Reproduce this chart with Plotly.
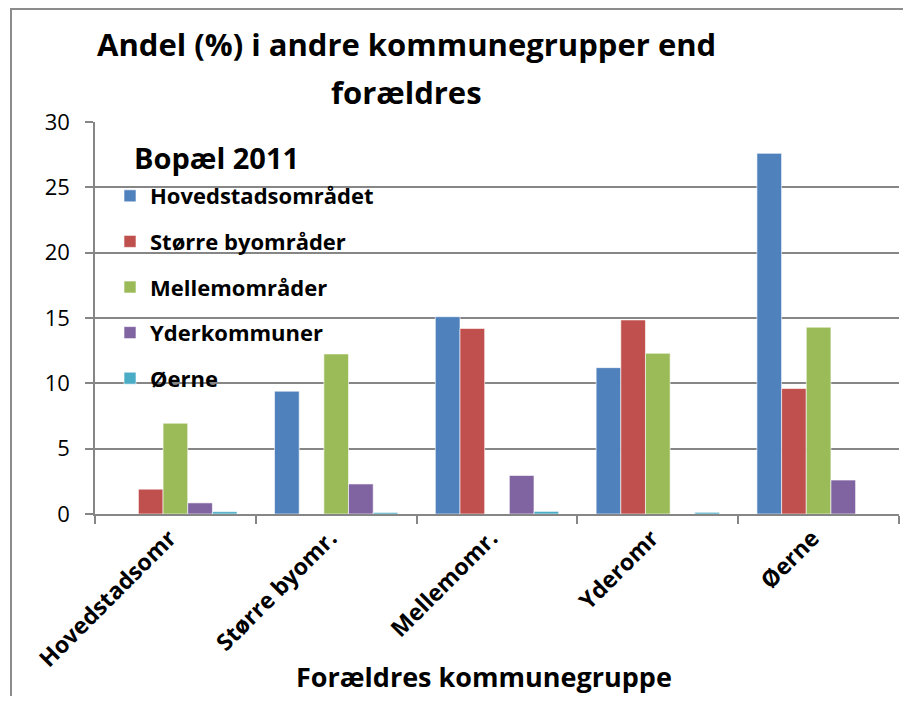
import plotly.graph_objects as go

# Forældres kommunegruppe (x categories)
categories = ["Hovedstadsomr", "Større byomr.", "Mellemomr.", "Yderomr", "Øerne"]

# Bopæl 2011 series (andel i %)
hovedstadsomraadet = [0.0, 9.4, 15.1, 11.2, 27.6]
stoerre_byomraader = [1.9, 0.0, 14.2, 14.85, 9.6]
mellemomraader = [6.95, 12.25, 0.0, 12.3, 14.3]
yderkommuner = [0.85, 2.3, 2.95, 0.0, 2.6]
oerne = [0.18, 0.12, 0.2, 0.13, 0.0]

series_names = ["Hovedstadsområdet", "Større byområder", "Mellemområder", "Yderkommuner", "Øerne"]
series_values = [hovedstadsomraadet, stoerre_byomraader, mellemomraader, yderkommuner, oerne]
colors = ["#4F81BD", "#C0504D", "#9BBB59", "#8064A2", "#4BACC6"]

FONT = "Open Sans"
GRAY = "#868686"

fig = go.Figure()
for i, (name, vals) in enumerate(zip(series_names, series_values)):
    fig.add_trace(go.Bar(
        x=categories,
        y=vals,
        name=f"<b>{name}</b>",
        legendgroup=f"g{i}",
        marker=dict(color=colors[i], line=dict(color="rgba(255,255,255,0.6)", width=1)),
    ))

# page has an 8px body margin, so the figure is a bit smaller than the window
W, H = 895, 688
ml, mr, mt, mb = 87, 4, 114, 182
pw = W - ml - mr
ph = H - mt - mb


def px_x(x):
    return (x - ml) / pw


def px_y(y):
    return (H - mb - y) / ph


fig.update_layout(
    width=W,
    height=H,
    margin=dict(l=ml, r=mr, t=mt, b=mb, autoexpand=False),
    paper_bgcolor="white",
    plot_bgcolor="white",
    barmode="group",
    bargap=0.233,
    bargroupgap=0,
    font=dict(family=FONT, color="black"),
    showlegend=True,
    legend=dict(
        x=px_x(102), y=px_y(167), xanchor="left", yanchor="top",
        bgcolor="rgba(0,0,0,0)",
        font=dict(size=22, family=FONT),
        tracegroupgap=14,
        itemclick=False,
    ),
    xaxis=dict(
        showline=True, linecolor=GRAY, linewidth=1.5,
        ticks="outside", ticklen=8, tickcolor=GRAY, tickwidth=1.5,
        tickson="boundaries",
        tickangle=-45,
        ticklabelshift=-6,
        tickfont=dict(size=23, family=FONT, color="black"),
        tickprefix="<b>", ticksuffix="</b>",
        showgrid=False,
    ),
    yaxis=dict(
        range=[0, 30], dtick=5,
        showline=True, linecolor=GRAY, linewidth=1.5,
        ticks="outside", ticklen=8, tickcolor=GRAY, tickwidth=1.5,
        ticklabelstandoff=11,
        showgrid=True, gridcolor=GRAY, gridwidth=1.5,
        tickfont=dict(size=22, family=FONT, color="black"),
        zeroline=False,
    ),
    annotations=[
        dict(text="<b>Andel (%) i andre kommunegrupper end</b>", xref="paper", yref="paper",
             x=px_x(398), y=px_y(36), xanchor="center", yanchor="middle", showarrow=False,
             font=dict(size=31, family=FONT)),
        dict(text="<b>forældres</b>", xref="paper", yref="paper",
             x=px_x(398), y=px_y(84), xanchor="center", yanchor="middle", showarrow=False,
             font=dict(size=31, family=FONT)),
        dict(text="<b>Bopæl 2011</b>", xref="paper", yref="paper",
             x=px_x(124), y=px_y(149), xanchor="left", yanchor="middle", showarrow=False,
             font=dict(size=29, family=FONT)),
        dict(text="<b>Forældres kommunegruppe</b>", xref="paper", yref="paper",
             x=px_x(476), y=px_y(668), xanchor="center", yanchor="middle", showarrow=False,
             font=dict(size=27, family=FONT)),
    ],
    shapes=[
        dict(type="rect", xref="paper", yref="paper",
             x0=px_x(3), y0=px_y(H + 20), x1=px_x(W + 20), y1=px_y(1),
             line=dict(color="#8c8c8c", width=2), fillcolor="rgba(0,0,0,0)", layer="below"),
    ],
)

fig.write_html("out.html")
